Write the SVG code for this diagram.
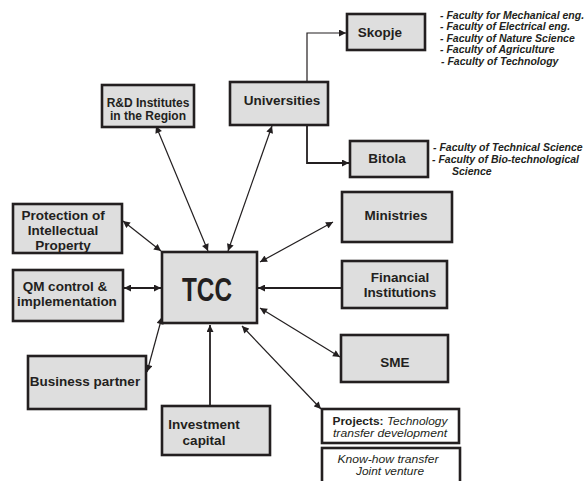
<svg xmlns="http://www.w3.org/2000/svg" width="587" height="481" viewBox="0 0 587 481">
<style>
.box{fill:#dedede;stroke:#231f20;stroke-width:2.6}
.wbox{fill:#ffffff;stroke:#231f20;stroke-width:2.6}
.t{font-family:"Liberation Sans",Arial,sans-serif;font-weight:bold;font-size:13.5px;fill:#231f20;text-anchor:middle}
.f{font-family:"Liberation Sans",Arial,sans-serif;font-weight:bold;font-style:italic;font-size:10.5px;fill:#231f20}
.p{font-family:"Liberation Sans",Arial,sans-serif;font-style:italic;font-size:10.2px;fill:#231f20;text-anchor:middle}
.c{fill:none;stroke:#231f20;stroke-width:1.2}
.c2{fill:none;stroke:#231f20;stroke-width:1.8}
</style>
<defs>
<marker id="ah" viewBox="0 0 10 10" refX="10" refY="5" markerWidth="8" markerHeight="7" markerUnits="userSpaceOnUse" orient="auto-start-reverse">
<path d="M0,0 L10,5 L0,10 z" fill="#231f20"/>
</marker>
</defs>
<rect width="587" height="481" fill="#ffffff"/>
<g id="connectors">
<polyline class="c" points="307,82 307,33 346,33" marker-end="url(#ah)"/>
<polyline class="c2" points="307,125 307,163 349,163" marker-end="url(#ah)"/>
<line class="c" x1="156" y1="126" x2="208" y2="251" marker-start="url(#ah)" marker-end="url(#ah)"/>
<line class="c" x1="272" y1="126" x2="228" y2="251" marker-start="url(#ah)" marker-end="url(#ah)"/>
<line class="c" x1="123" y1="221" x2="161" y2="251" marker-start="url(#ah)" marker-end="url(#ah)"/>
<line class="c2" x1="124" y1="288" x2="161" y2="288" marker-start="url(#ah)" marker-end="url(#ah)"/>
<line class="c" x1="147" y1="372" x2="162" y2="317" marker-start="url(#ah)" marker-end="url(#ah)"/>
<line class="c2" x1="210" y1="405" x2="210" y2="325" marker-end="url(#ah)"/>
<line class="c" x1="242" y1="326" x2="321" y2="409" marker-start="url(#ah)" marker-end="url(#ah)"/>
<line class="c" x1="260" y1="308" x2="340" y2="357" marker-start="url(#ah)" marker-end="url(#ah)"/>
<line class="c2" x1="341" y1="288" x2="258" y2="288" marker-end="url(#ah)"/>
<line class="c" x1="260" y1="262" x2="333" y2="222" marker-start="url(#ah)" marker-end="url(#ah)"/>
</g>
<g id="tcc">
<rect class="box" x="162" y="252" width="95" height="71"/>
<text class="t" x="207" y="301" style="font-size:34px" textLength="50" lengthAdjust="spacingAndGlyphs">TCC</text>
</g>
<g id="skopje">
<rect class="box" x="347" y="14" width="78" height="36"/>
<text class="t" x="380" y="37">Skopje</text>
<text class="f" x="440" y="18.5">- Faculty for Mechanical eng.</text>
<text class="f" x="440" y="30">- Faculty of Electrical eng.</text>
<text class="f" x="440" y="41.5">- Faculty of Nature Science</text>
<text class="f" x="440" y="53">- Faculty of Agriculture</text>
<text class="f" x="441" y="64.5">- Faculty of Technology</text>
</g>
<g id="bitola">
<rect class="box" x="350" y="141" width="78" height="36"/>
<text class="t" x="387" y="163">Bitola</text>
<text class="f" x="433" y="151">- Faculty of Technical Science</text>
<text class="f" x="432" y="163">- Faculty of Bio-technological</text>
<text class="f" x="452" y="174.5">Science</text>
</g>
<g id="universities">
<rect class="box" x="230" y="82" width="98" height="43"/>
<text class="t" x="282" y="105">Universities</text>
</g>
<g id="rd">
<rect class="box" x="102" y="85" width="92" height="42"/>
<text class="t" x="148" y="107" style="font-size:12px">R&amp;D Institutes</text>
<text class="t" x="148" y="119.5" style="font-size:12px">in the Region</text>
</g>
<g id="protection">
<rect class="box" x="13" y="204" width="109" height="49"/>
<text class="t" x="63" y="220">Protection of</text>
<text class="t" x="63" y="235">Intellectual</text>
<text class="t" x="63" y="250">Property</text>
</g>
<g id="qm">
<rect class="box" x="13" y="270" width="110" height="51"/>
<text class="t" x="65" y="291">QM control &amp;</text>
<text class="t" x="67" y="306">implementation</text>
</g>
<g id="business">
<rect class="box" x="28" y="356" width="118" height="53"/>
<text class="t" x="85" y="386">Business partner</text>
</g>
<g id="investment">
<rect class="box" x="162" y="406" width="108" height="49"/>
<text class="t" x="204" y="429">Investment</text>
<text class="t" x="204" y="445">capital</text>
</g>
<g id="ministries">
<rect class="box" x="342" y="192" width="110" height="50"/>
<text class="t" x="396" y="220">Ministries</text>
</g>
<g id="financial">
<rect class="box" x="342" y="261" width="105" height="47"/>
<text class="t" x="400" y="282">Financial</text>
<text class="t" x="400" y="297">Institutions</text>
</g>
<g id="sme">
<rect class="box" x="341" y="335" width="107" height="47"/>
<text class="t" x="395" y="367">SME</text>
</g>
<g id="projects">
<rect class="wbox" x="322" y="409" width="137" height="34"/>
<text class="p" x="390" y="424.5" textLength="115" lengthAdjust="spacingAndGlyphs"><tspan style="font-weight:bold;font-style:normal">Projects:</tspan> Technology</text>
<text class="p" x="390" y="436.5" textLength="114" lengthAdjust="spacingAndGlyphs">transfer development</text>
</g>
<g id="knowhow">
<rect class="wbox" x="322" y="448" width="138" height="40"/>
<text class="p" x="388" y="462.5" textLength="101" lengthAdjust="spacingAndGlyphs">Know-how transfer</text>
<text class="p" x="390" y="474.5" textLength="68" lengthAdjust="spacingAndGlyphs">Joint venture</text>
</g>
</svg>
